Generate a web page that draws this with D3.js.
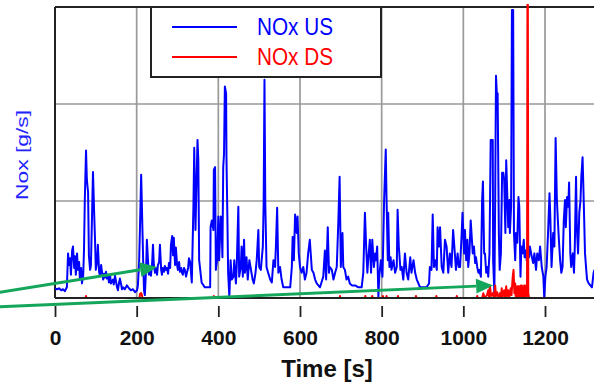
<!DOCTYPE html>
<html>
<head>
<meta charset="utf-8">
<script src="https://cdn.jsdelivr.net/npm/d3@7"></script>
<style>
  body { margin: 0; background: #fff; }
  svg { display: block; }
</style>
</head>
<body>
<div class="chart-container"></div>
<script>
// --- Data ---

// [time s, NOx g/s] upstream
const noxUS = [
  [0,.10],[5,.09],[10,.10],[15,.08],[20,.09],[24,.07],[29,.11],[32,.46],[34,.34],[37,.41],[39,.24],[42,.49],[44,.53],[47,.31],[49,.43],[51,.24],[54,.46],[56,.29],[59,.37],[61,.19],[64,.31],[66,.15],[69,.23],[71,.49],[73,1.01],[76,1.52],[78,1.22],[81,1.09],[83,.44],[86,.29],[88,.34],[91,.91],[93,1.30],[96,.86],[98,.60],[100,.29],[103,.37],[105,.55],[108,.27],[110,.23],[113,.34],[115,.27],[118,.19],[120,.25],[122,.21],[125,.27],[127,.20],[130,.24],[132,.16],[135,.23],[137,.15],[142,.19],[144,.14],[147,.23],[149,.18],[152,.11],[154,.08],[157,.16],[159,.20],[162,.14],[164,.09],[167,.11],[171,.09],[176,.13],[181,.10],[186,.08],[191,.09],[196,.06],[201,.08],
  [203,.13],[206,.37],[208,.70],[211,1.27],[213,.91],[216,.37],[218,.08],[220,.03],[223,.29],[225,.60],[228,.37],[230,.24],[233,.31],[235,.23],[238,.37],[240,.55],[242,.34],[245,.26],[247,.31],[250,.24],[252,.34],[255,.37],[257,.55],[260,.29],[262,.24],[264,.31],[267,.27],[269,.33],[272,.29],[274,.31],[277,.25],[279,.36],[282,.31],[284,.55],[287,.64],[289,.44],[291,.62],[294,.34],[296,.52],[299,.34],[301,.29],[304,.37],[306,.27],[309,.31],[311,.26],[313,.24],[316,.31],[318,.29],[321,.22],[323,.26],[326,.31],[328,.41],[331,.37],
  [335,.16],[339,.94],[341,1.55],[344,.70],[349,1.63],[351,1.42],[353,.39],[359,.16],[367,.11],[380,.11],[381,.73],[384,.80],[388,.70],[389,1.32],[392,1.35],[394,.29],[397,.39],[400,.84],[402,.39],[406,.84],[408,.73],[410,.42],[412,1.35],[414,1.49],[416,2.18],[419,2.11],[420,1.42],[422,.88],[424,.26],[427,.01],[430,.39],[433,.19],[437,.22],[439,.39],[443,.15],[445,.32],[449,.94],[451,.22],[455,.32],[457,.53],[460,.22],[463,.60],[465,.26],[469,.42],[472,.19],[476,.39],[480,.29],[484,.19],[487,.15],[491,.26],[494,.39],[498,.70],[500,.32],[504,.29],[509,.53],[511,.98],[513,2.25],[515,.98],[518,.32],[522,.26],[527,.19],[531,.16],[535,.39],[539,.32],[541,.53],[544,.93],[547,.26],[551,.32],[555,.19],[559,.11],[563,.11],[576,.11],[580,.32],[582,.63],[585,.39],[588,.86],[592,.67],[594,.84],[597,.46],[600,.32],[604,.26],[608,.32],[612,.19],[616,.26],[620,.46],[624,.60],[629,.29],[633,.26],[637,.19],[641,.15],[649,.11],[657,.22],
  [661,.49],[664,.19],[668,.73],[671,.26],[673,.32],[678,.29],[682,.19],[686,.26],[690,.32],[694,.80],[697,1.25],[700,.32],[704,.67],[706,.32],[710,.29],[714,.19],[718,.22],[722,.15],[727,.13],[735,.13],[743,.11],[751,.11],[755,.26],[759,.88],[762,.53],[765,.26],[767,.39],[771,.60],[774,.26],[777,.60],[781,.32],[784,.46],[786,.39],[789,.53],[792,.01],[794,.22],[798,.39],[802,.22],[804,.60],[806,1.01],[810,1.53],[812,1.01],[815,.39],[816,.88],[819,.32],[822,.42],[824,.29],[829,.39],[833,.26],[837,.32],[839,.91],[842,.53],[846,.29],[849,.32],[853,.19],[857,.46],[861,.26],[865,.19],[870,.42],[873,.26],[878,.39],[882,.26],[886,.19],[890,.15],[894,.11],[902,.11],[910,.11],[916,.15],[918,.32],[922,.29],[925,.86],[928,.32],[931,.39],[935,.29],[937,.73],[940,.53],[943,.73],[947,.32],[951,.26],[955,.60],[959,.53],[963,.26],[967,.46],[971,.32],[975,.70],[978,.53],[982,.29],[986,.46],[989,.32],
  [992,.32],[996,.67],[998,.88],[1002,.46],[1004,.70],[1007,.39],[1010,.60],[1012,.32],[1015,.46],[1018,.80],[1020,.67],[1023,.46],[1026,.53],[1029,.36],[1031,.42],[1034,.32],[1037,.26],[1039,.29],[1043,.22],[1046,1.01],[1048,1.20],[1051,.46],[1053,.46],[1056,.26],[1059,.32],[1061,.22],[1064,.46],[1067,1.63],[1069,1.63],[1072,1.63],[1073,.39],[1076,.05],[1078,1.01],[1080,2.29],[1082,2.11],[1084,2.11],[1087,.67],[1089,.29],[1092,.46],[1095,1.29],[1098,1.29],[1100,1.22],[1103,.67],[1105,1.42],[1108,1.01],[1110,.73],[1113,1.01],[1114,.67],[1117,.94],[1119,2.97],[1122,2.97],[1124,.67],[1127,.39],[1129,.67],[1132,.57],[1135,1.04],[1137,.94],[1140,.22],[1142,.53],[1145,.46],[1148,.60],[1150,.42],[1153,.49],[1155,.39],[1158,.53],[1161,.42],[1163,.53],[1166,.46],[1168,.42],[1171,.36],[1174,.46],[1178,.29],[1181,.46],[1185,.39],[1188,.53],[1192,.32],[1196,.22],[1198,.01],[1201,.22],[1204,.32],[1208,.73],[1211,1.08],[1213,.84],[1216,.32],[1220,.67],[1223,.53],[1226,1.65],[1229,1.03],[1231,.84],[1234,.60],[1237,.39],[1240,.26],[1243,.32],[1246,.80],[1249,1.01],[1251,.73],[1254,1.04],[1257,.94],[1259,1.19],[1262,.46],[1264,.32],[1268,.46],[1271,.26],[1273,.53],[1276,1.25],[1278,.73],[1281,.46],[1284,.88],[1287,1.01],[1289,1.25],[1292,1.45],[1294,1.14],[1298,.46],[1301,.29],[1303,.19],[1307,.15],[1311,.13],[1315,.11],[1319,.26],[1321,.29]
];

// [time s, NOx g/s] downstream
const noxDS = [
  [0,0],[75,0],[76,.02],[77,0],[207,0],[208,.04],[211,.05],[213,.03],[214,0],[388,0],[389,.02],[391,0],
  [697,0],[698,.02],[699,0],[759,0],[760,.02],[761,0],[776,0],[777,.02],[778,0],[802,0],[803,.02],[804,0],[811,0],[812,.02],[813,0],
  [839,0],[840,.02],[841,0],[883,0],[884,.02],[885,0],[933,0],[934,.02],[935,0],[983,0],[984,.02],[985,0],[1033,0],[1034,.02],[1035,0],
  [1046,0],[1049,.05],[1052,0],[1058,.03],[1061,.08],[1063,.01],[1065,.13],[1068,.02],[1072,.05],[1075,0],[1078,.13],[1080,.02],[1083,.06],[1086,0],
  [1090,.05],[1092,0],[1094,.10],[1096,.01],[1100,.08],[1102,0],[1105,.12],[1107,.02],[1110,.08],[1112,0],[1116,.10],[1118,.03],[1121,.22],[1123,.29],
  [1125,.05],[1127,.15],[1128,.02],[1129,.12],[1130,.01],[1131,.10],[1132,.02],[1133,.12],[1134,.01],[1135,.12],[1136,.02],[1137,.12],[1138,.01],
  [1139,.12],[1140,.02],[1141,.13],[1142,.01],[1143,.13],[1144,.02],[1145,.12],[1146,.01],[1147,.12],[1148,.02],[1149,.13],[1150,.01],[1151,.13],
  [1152,.02],[1153,.12],[1154,.01],[1155,.12],[1156,.02],[1157,3.05],[1158,3.05],[1159,.05],[1161,0],[1200,0],[1320,0]
];

const xTicks = [0, 200, 400, 600, 800, 1000, 1200];
const yGrid = [1, 2];
const seriesNames = ["NOx US", "NOx DS"];
const seriesColors = ["#0000ff", "#ff0000"];

// green annotation arrows, [start, tip] in data units
const arrows = [
  [[-135, 0.06], [250, 0.32]],
  [[-135, -0.09], [1073, 0.13]]
];

// --- Layout ---
const w = 594, h = 384;
const plotLeft = 55, plotRight = 594, plotTop = 7, plotBottom = 298;

const svg = d3.select(".chart-container")
  .append("svg")
  .attr("width", w)
  .attr("height", h);

const xScale = d3.scaleLinear().domain([0, 1320]).range([plotLeft, plotRight]);
const yScale = d3.scaleLinear().domain([0, 3]).range([plotBottom, plotTop]);

// grid
svg.append("g").selectAll("line")
  .data(xTicks.filter(d => d > 0))
  .enter().append("line")
  .attr("x1", d => xScale(d)).attr("x2", d => xScale(d))
  .attr("y1", plotTop).attr("y2", plotBottom)
  .attr("stroke", "#999").attr("stroke-width", 1.7);

svg.append("g").selectAll("line")
  .data(yGrid)
  .enter().append("line")
  .attr("x1", plotLeft).attr("x2", plotRight)
  .attr("y1", d => yScale(d)).attr("y2", d => yScale(d))
  .attr("stroke", "#999").attr("stroke-width", 1.7);

// frame top / left
svg.append("line").attr("x1", plotLeft).attr("x2", plotRight).attr("y1", plotTop).attr("y2", plotTop)
  .attr("stroke", "#222").attr("stroke-width", 2);
svg.append("line").attr("x1", plotLeft).attr("x2", plotLeft).attr("y1", plotTop).attr("y2", plotBottom)
  .attr("stroke", "#222").attr("stroke-width", 2);

// clip for the traces
svg.append("clipPath").attr("id", "plotclip")
  .append("rect").attr("x", plotLeft).attr("y", 4).attr("width", plotRight - plotLeft).attr("height", plotBottom - 4);

const line = d3.line()
  .x(d => xScale(d[0]))
  .y(d => yScale(d[1]));

const traces = svg.append("g").attr("clip-path", "url(#plotclip)");
[noxUS, noxDS].forEach(function (s, i) {
  traces.append("path")
    .datum(s)
    .attr("d", line)
    .attr("fill", "none")
    .attr("stroke", seriesColors[i])
    .attr("stroke-width", 2)
    .attr("stroke-linejoin", "round");
});

// frame bottom
svg.append("line").attr("x1", plotLeft).attr("x2", plotRight).attr("y1", plotBottom).attr("y2", plotBottom)
  .attr("stroke", "#222").attr("stroke-width", 2);

// x axis: ticks hang a little below the frame
const xAxis = d3.axisBottom(xScale)
  .tickValues(xTicks)
  .tickSize(11)
  .tickPadding(13)
  .tickFormat(d3.format("d"));

const gx = svg.append("g")
  .attr("transform", "translate(0," + (plotBottom + 8) + ")")
  .call(xAxis);
gx.select(".domain").remove();
gx.selectAll(".tick line").attr("stroke", "#222").attr("stroke-width", 1.8);
gx.selectAll(".tick text")
  .attr("fill", "#111")
  .attr("font-family", "Liberation Sans, Arial, sans-serif")
  .attr("font-weight", "bold")
  .attr("font-size", "21px");

svg.append("text")
  .attr("x", 327).attr("y", 377)
  .attr("text-anchor", "middle")
  .attr("font-family", "Liberation Sans, Arial, sans-serif")
  .attr("font-weight", "bold")
  .attr("font-size", "24px")
  .attr("fill", "#111")
  .text("Time [s]");

svg.append("text")
  .attr("transform", "translate(28,155) rotate(-90)")
  .attr("text-anchor", "middle")
  .attr("font-family", "Liberation Sans, Arial, sans-serif")
  .attr("font-size", "17px")
  .attr("fill", "#2222ff")
  .attr("textLength", 90)
  .attr("lengthAdjust", "spacingAndGlyphs")
  .text("Nox [g/s]");

// arrows
const green = "#14a65a";
arrows.forEach(function (a) {
  const x0 = xScale(a[0][0]), y0 = yScale(a[0][1]);
  const x1 = xScale(a[1][0]), y1 = yScale(a[1][1]);
  const ang = Math.atan2(y1 - y0, x1 - x0);
  const len = 17, hw = 7.5;
  const bx = x1 - len * Math.cos(ang), by = y1 - len * Math.sin(ang);
  svg.append("line")
    .attr("x1", x0).attr("y1", y0).attr("x2", bx).attr("y2", by)
    .attr("stroke", green).attr("stroke-width", 3);
  const px = -Math.sin(ang) * hw, py = Math.cos(ang) * hw;
  svg.append("polygon")
    .attr("points", [[x1, y1], [bx + px, by + py], [bx - px, by - py]].map(p => p.join(",")).join(" "))
    .attr("fill", green);
});

// legend
const legend = svg.append("g");
legend.append("rect")
  .attr("x", 151).attr("y", plotTop).attr("width", 230).attr("height", 70)
  .attr("fill", "#fff").attr("stroke", "#222").attr("stroke-width", 2);

seriesNames.forEach(function (name, i) {
  const ly = 27 + i * 30;
  legend.append("line")
    .attr("x1", 172).attr("x2", 237).attr("y1", ly).attr("y2", ly)
    .attr("stroke", seriesColors[i]).attr("stroke-width", 2);
  legend.append("text")
    .attr("x", 257).attr("y", ly + 8)
    .attr("font-family", "Liberation Sans, Arial, sans-serif")
    .attr("font-size", "23px")
    .attr("fill", seriesColors[i])
    .attr("textLength", 76)
    .attr("lengthAdjust", "spacingAndGlyphs")
    .text(name);
});
</script>
</body>
</html>
